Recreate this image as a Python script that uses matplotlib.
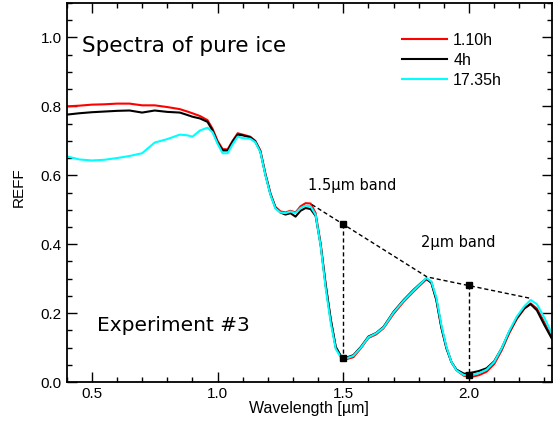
import matplotlib.pyplot as plt
import numpy as np
from matplotlib.ticker import MultipleLocator

plt.rcParams['font.family'] = ['Liberation Sans', 'DejaVu Sans']

wavelength = [0.40, 0.45, 0.50, 0.55, 0.60, 0.65, 0.70, 0.75, 0.80, 0.85,
              0.88, 0.90, 0.93, 0.96, 0.98, 1.00, 1.02, 1.04, 1.06, 1.08,
              1.10, 1.13, 1.15, 1.17, 1.19, 1.21, 1.23, 1.25, 1.27, 1.29,
              1.31, 1.33, 1.35, 1.37, 1.39, 1.41, 1.43, 1.45, 1.47, 1.49,
              1.51, 1.54, 1.57, 1.60, 1.63, 1.66, 1.70, 1.74, 1.78, 1.81,
              1.83, 1.85, 1.87, 1.89, 1.91, 1.93, 1.95, 1.98, 2.01, 2.04,
              2.07, 2.10, 2.13, 2.16, 2.19, 2.22, 2.245, 2.27, 2.30, 2.33]

reff_110h = [0.800, 0.802, 0.805, 0.806, 0.808, 0.808, 0.803, 0.803, 0.798, 0.792,
             0.785, 0.780, 0.772, 0.760, 0.735, 0.700, 0.676, 0.675, 0.700, 0.722,
             0.718, 0.712, 0.700, 0.672, 0.605, 0.548, 0.508, 0.495, 0.492, 0.497,
             0.492, 0.510, 0.519, 0.518, 0.490, 0.400, 0.280, 0.180, 0.100, 0.074,
             0.066, 0.072, 0.098, 0.128, 0.138, 0.156, 0.198, 0.233, 0.263, 0.284,
             0.298, 0.290, 0.240, 0.160, 0.100, 0.058, 0.034, 0.018, 0.015, 0.020,
             0.030, 0.052, 0.092, 0.142, 0.183, 0.213, 0.228, 0.213, 0.172, 0.128]

reff_4h = [0.776, 0.780, 0.783, 0.785, 0.787, 0.788, 0.782, 0.788, 0.784, 0.782,
           0.775, 0.770, 0.765, 0.755, 0.730, 0.695, 0.672, 0.672, 0.698, 0.718,
           0.716, 0.710, 0.698, 0.670, 0.603, 0.546, 0.506, 0.492, 0.486, 0.490,
           0.480, 0.497, 0.505, 0.502, 0.482, 0.398, 0.282, 0.182, 0.102, 0.076,
           0.070, 0.078, 0.102, 0.132, 0.142, 0.160, 0.204, 0.238, 0.268, 0.288,
           0.300, 0.288, 0.238, 0.158, 0.098, 0.058, 0.036, 0.024, 0.027, 0.032,
           0.040, 0.060, 0.098, 0.146, 0.186, 0.214, 0.226, 0.208, 0.165, 0.125]

reff_1735h = [0.655, 0.646, 0.643, 0.645, 0.650, 0.656, 0.664, 0.695, 0.705, 0.718,
              0.716, 0.712, 0.730, 0.738, 0.725, 0.692, 0.664, 0.664, 0.690, 0.712,
              0.708, 0.706, 0.696, 0.668, 0.601, 0.544, 0.504, 0.492, 0.490, 0.495,
              0.490, 0.505, 0.512, 0.510, 0.485, 0.395, 0.272, 0.172, 0.096, 0.072,
              0.068, 0.076, 0.100, 0.130, 0.141, 0.158, 0.202, 0.236, 0.266, 0.287,
              0.302, 0.292, 0.245, 0.165, 0.102, 0.058, 0.034, 0.020, 0.020, 0.026,
              0.036, 0.058, 0.098, 0.148, 0.190, 0.220, 0.238, 0.226, 0.186, 0.140]

# continuum shoulders and band depth markers
cont_wl = [1.375, 1.833, 2.25]
cont_reff = [0.515, 0.305, 0.242]
band_wl = [1.5, 2.0]
band_top = [0.458, 0.281]
band_bottom = [0.070, 0.020]

fig = plt.figure(figsize=(5.53, 4.23), dpi=100)
ax = fig.add_axes([0.1206, 0.0969, 0.8776, 0.896])

ax.plot(wavelength, reff_110h, color='#ff0000', lw=1.5, label='1.10h')
ax.plot(wavelength, reff_4h, color='black', lw=1.5, label='4h')
ax.plot(wavelength, reff_1735h, color='#00ffff', lw=1.5, label='17.35h')

ax.plot(cont_wl, cont_reff, color='black', lw=1, ls=(0, (3, 2)))
for w, top, bot in zip(band_wl, band_top, band_bottom):
    ax.plot([w, w], [top, bot], color='black', lw=1, ls=(0, (3, 2)))
    ax.plot([w, w], [top, bot], 's', color='black', ms=5)

ax.set_xlim(0.4, 2.33)
ax.set_ylim(0.0, 1.1)
ax.xaxis.set_major_locator(MultipleLocator(0.5))
ax.xaxis.set_minor_locator(MultipleLocator(0.1))
ax.yaxis.set_major_locator(MultipleLocator(0.2))
ax.yaxis.set_minor_locator(MultipleLocator(0.05))
ax.tick_params(which='both', direction='in', top=True, right=True,
               labelsize=11, width=1)
ax.tick_params(which='major', length=7)
ax.tick_params(which='minor', length=3.5)
for sp in ax.spines.values():
    sp.set_linewidth(1.3)

ax.set_xlabel('Wavelength [µm]', fontsize=11.5, labelpad=0)
ax.set_ylabel('REFF', fontsize=11,
              family=['Liberation Sans Narrow', 'Liberation Sans'])
ax.yaxis.set_label_coords(-0.084, 0.513)

ax.text(0.4615, 0.957, 'Spectra of pure ice', family='DejaVu Sans',
        fontsize=15.5, va='baseline', ha='left')
ax.text(0.521, 0.148, 'Experiment #3', family='DejaVu Sans',
        fontsize=14.5, va='baseline', ha='left')
ax.text(1.359, 0.556, '1.5µm band', family='DejaVu Sans',
        fontsize=10.5, va='baseline', ha='left')
ax.text(1.811, 0.393, '2µm band', family='DejaVu Sans',
        fontsize=10.5, va='baseline', ha='left')

ax.legend(loc='upper left', bbox_to_anchor=(0.691, 0.921), frameon=False,
          fontsize=11.5, borderpad=0, borderaxespad=0, handlelength=2.8,
          handletextpad=0.4, labelspacing=0.3)

fig.savefig('out.png', dpi=100)
